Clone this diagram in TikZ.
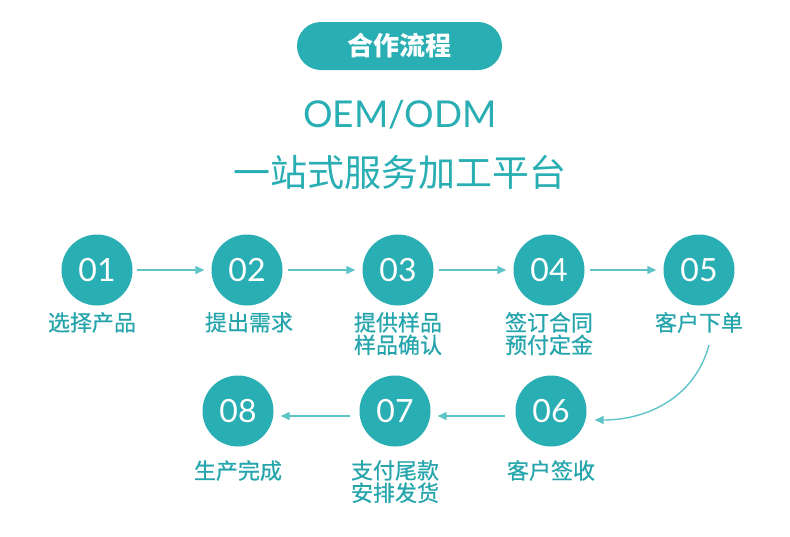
\documentclass[tikz,border=0pt]{standalone}
\usepackage{fontspec}
\setmainfont{Lato}
\newfontfamily\cjk{Noto Sans CJK SC}
\newfontfamily\cjkm[FakeBold=0.6]{Noto Sans CJK SC}
\usetikzlibrary{arrows.meta,calc}
\definecolor{teal1}{HTML}{28AEB3}
\definecolor{tealline}{HTML}{5EC4C8}
\definecolor{tealtext}{HTML}{26A6AC}
\begin{document}
\begin{tikzpicture}[x=1pt,y=-1pt,
  stepcirc/.style={circle,fill=teal1,minimum size=71pt,inner sep=0pt,text=white,font=\fontsize{32}{32}\selectfont},
  steplabel/.style={anchor=north,inner sep=0pt,align=center,text=tealtext,font=\cjkm\fontsize{22}{22.5}\selectfont},
  flow/.style={draw=tealline,line width=1.4pt,-{Triangle[length=9pt,width=8pt]}}]
\useasboundingbox (0,0) rectangle (790,536);
\fill[white] (0,0) rectangle (790,536);
\node[rounded corners=24pt,fill=teal1,minimum width=205pt,minimum height=48pt,inner sep=0pt,text=white,font=\cjk\bfseries\fontsize{26}{26}\selectfont] (title) at (399.5,46) {合作流程};
\node[text=teal1,inner sep=0pt,font=\fontsize{37}{37}\selectfont] (oem) at (400,115) {OEM/ODM};
\node[text=teal1,inner sep=0pt,font=\cjk\fontsize{37}{37}\selectfont] (sub) at (400,172) {一站式服务加工平台};
% row 1
\node[stepcirc] (c01) at (97,270) {01};
\node[stepcirc] (c02) at (247,270) {02};
\node[stepcirc] (c03) at (398,270) {03};
\node[stepcirc] (c04) at (549,270) {04};
\node[stepcirc] (c05) at (699,270) {05};
% row 2
\node[stepcirc] (c06) at (551,411) {06};
\node[stepcirc] (c07) at (395,411) {07};
\node[stepcirc] (c08) at (238,411) {08};
% labels
\node[steplabel] (l01) at (92,312) {选择产品};
\node[steplabel] (l02) at (249,312) {提出需求};
\node[steplabel] (l03) at (398,312) {提供样品\\样品确认};
\node[steplabel] (l04) at (549,312) {签订合同\\预付定金};
\node[steplabel] (l05) at (699,312) {客户下单};
\node[steplabel] (l06) at (551,460) {客户签收};
\node[steplabel] (l07) at (395,460) {支付尾款\\安排发货};
\node[steplabel] (l08) at (238,460) {生产完成};
% connectors
\draw[flow,shorten <=4pt,shorten >=7pt] (c01) -- (c02);
\draw[flow,shorten <=5pt,shorten >=7pt] (c02) -- (c03);
\draw[flow,shorten <=5pt,shorten >=7pt] (c03) -- (c04);
\draw[flow,shorten <=5pt,shorten >=7pt] (c04) -- (c05);
\coordinate (s05) at (709,345);
\draw[flow] (s05) to[out=-105,in=0] ($(c06.east)+(8,9)$);
\draw[flow,shorten <=10pt,shorten >=7pt] ($(c06.west)+(0,5)$) -- ($(c07.east)+(0,5)$);
\draw[flow,shorten <=9pt,shorten >=7pt] ($(c07.west)+(0,5)$) -- ($(c08.east)+(0,5)$);
\end{tikzpicture}
\end{document}
